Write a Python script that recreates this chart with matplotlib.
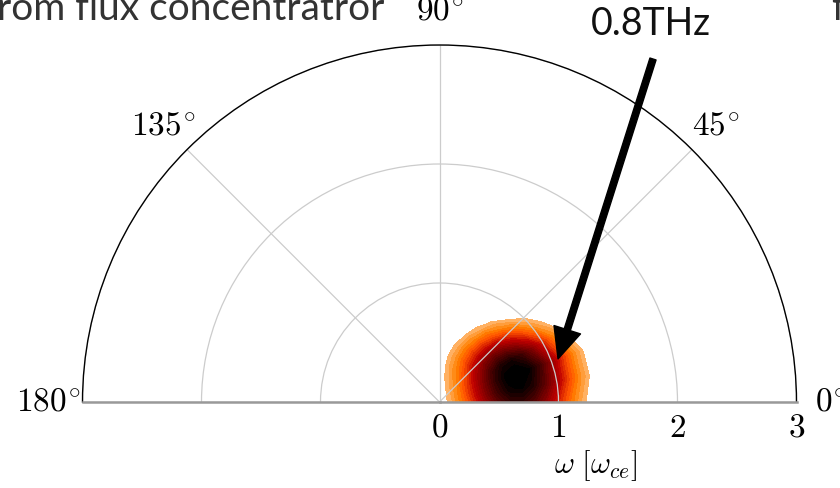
import numpy as np
import matplotlib.pyplot as plt
from matplotlib.ticker import FuncFormatter

plt.rcParams['mathtext.fontset'] = 'cm'
plt.rcParams['font.family'] = ['Lato', 'DejaVu Sans']

# emitted intensity on a (theta, omega) grid, normalised to the peak
theta_deg = [0, 10, 20, 30, 40, 50, 60, 70, 80, 90]
omega = [0.0, 0.1, 0.2, 0.3, 0.4, 0.5, 0.6, 0.7, 0.8, 0.9, 1.0, 1.1, 1.2, 1.3, 1.4, 1.5]
intensity = [
    [.079, .154, .267, .416, .581, .727, .812, .812, .727, .581, .416, .267, .154, .079, .036, .014],
    [.079, .156, .277, .440, .628, .802, .918, .942, .866, .713, .526, .348, .207, .110, .052, .022],
    [.079, .155, .276, .440, .633, .819, .954, 1.00, .938, .780, .575, .374, .215, .110, .050, .020],
    [.079, .151, .264, .416, .595, .770, .887, .892, .785, .603, .405, .237, .122, .054, .021, .007],
    [.079, .144, .242, .371, .518, .638, .676, .615, .482, .325, .188, .094, .040, .015, .005, .001],
    [.079, .135, .214, .313, .411, .457, .431, .344, .232, .132, .064, .026, .009, .003, .001, .000],
    [.079, .125, .183, .249, .295, .291, .239, .164, .093, .044, .018, .006, .002, .000, .000, .000],
    [.079, .113, .151, .187, .197, .169, .120, .070, .034, .013, .004, .000, .000, .000, .000, .000],
    [.079, .101, .121, .134, .124, .094, .058, .029, .012, .004, .000, .000, .000, .000, .000, .000],
    [.079, .089, .095, .093, .076, .050, .027, .012, .005, .000, .000, .000, .000, .000, .000, .000],
]
angle_ticks = [0, 45, 90, 135, 180]
omega_ticks = [0, 1, 2, 3]
peak_label = "0.8THz"
peak_theta, peak_omega = 20, 1.06

W, H = 840, 489
fig = plt.figure(figsize=(W / 100, H / 100), dpi=100)
# square box: the half disc is fitted to its width and centred vertically
side = 714
cx, cy = 439.5, 403 - side / 4
ax = fig.add_axes([(cx - side / 2) / W, (H - cy - side / 2) / H, side / W, side / H],
                  projection='polar')

T, R = np.meshgrid(np.radians(theta_deg), omega, indexing='ij')
levels = np.linspace(0.13, 1.0, 26)
ax.contourf(T, R, np.array(intensity), levels=levels, cmap='gist_heat_r',
            vmin=0.0, vmax=0.95, extend='max')

ax.set_thetamin(0)
ax.set_thetamax(180)
ax.set_rlim(0, 3)
ax.set_xticks(np.radians(angle_ticks))
ax.xaxis.set_major_formatter(FuncFormatter(lambda x, pos: r"$%d^{\!\circ}$" % round(np.degrees(x))))
ax.set_yticks(omega_ticks)
ax.yaxis.set_major_formatter(FuncFormatter(lambda v, pos: r"$%d$" % round(v)))
ax.set_rlabel_position(0)
ax.tick_params(axis='x', labelsize=24, pad=14)
ax.tick_params(axis='y', labelsize=24)
ax.grid(color='#cccccc', lw=0.9)

ax.spines['polar'].set_color('black')
ax.spines['polar'].set_linewidth(1.0)
for s in ('start', 'end'):
    ax.spines[s].set_color('#999999')
    ax.spines[s].set_linewidth(1.8)

fig.text(596 / W, 1 - 466 / H, r"$\omega\ [\omega_{ce}]$", ha='center', va='center',
         fontsize=22)

# arrow marking the peak frequency
ax.annotate('', xy=(np.radians(peak_theta), peak_omega), xycoords='data',
            xytext=(653, H - 60), textcoords='figure pixels',
            arrowprops=dict(arrowstyle='simple,head_width=1.0,head_length=1.1,tail_width=0.23',
                            mutation_scale=20, color='black', shrinkA=0, shrinkB=0))
fig.text(651 / W, 1 - 24 / H, peak_label, ha='center', va='center',
         fontsize=27, color='#111111')

fig.text(-3 / W, 1 - 20 / H, "rom flux concentratror", ha='left', va='baseline',
         fontsize=28, color='#333333')
fig.text(831 / W, 1 - 20 / H, "f", ha='left', va='baseline',
         fontsize=28, color='#333333')

fig.savefig('out.png', dpi=100)
